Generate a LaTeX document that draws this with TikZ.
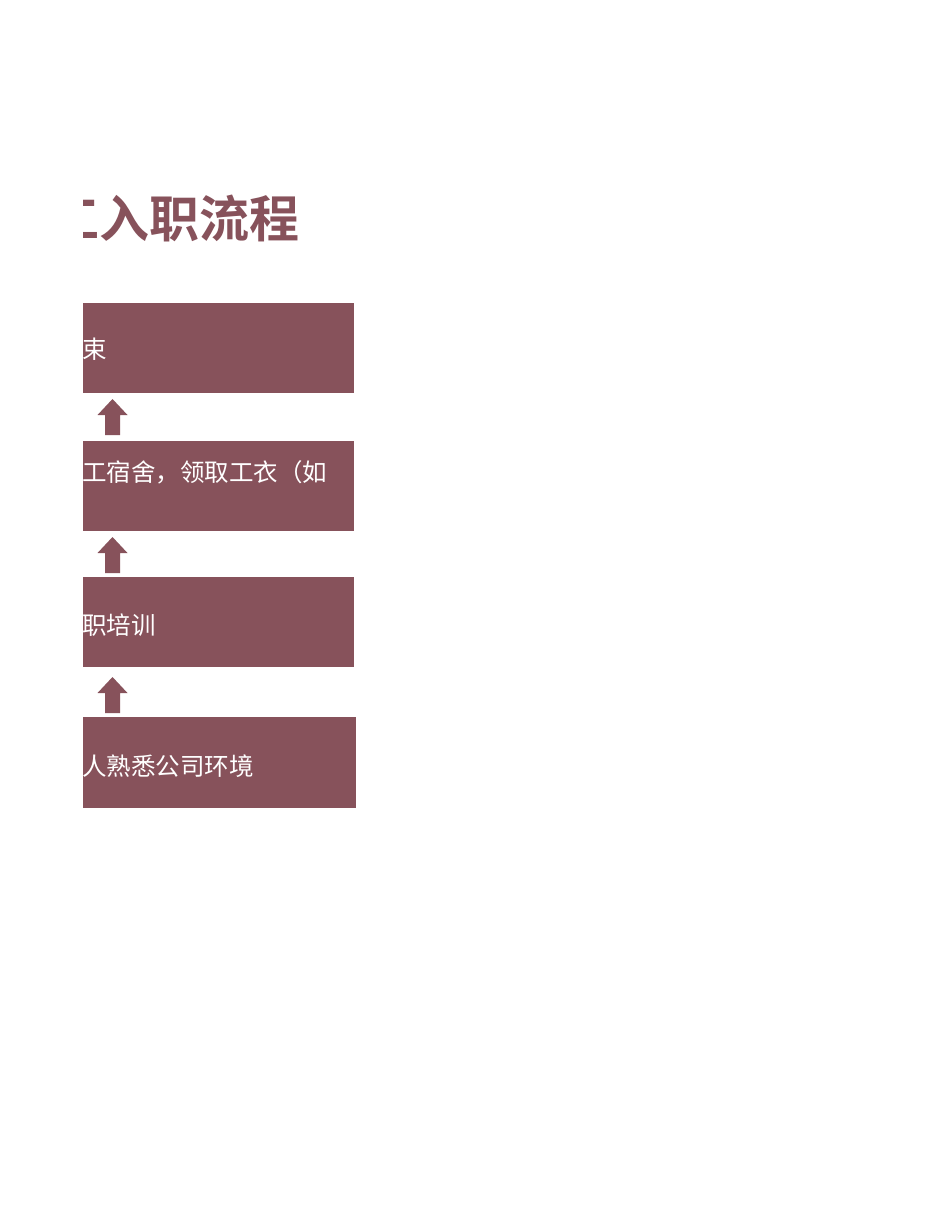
\documentclass[tikz,border=0pt]{standalone}
\usepackage{fontspec}
\newfontfamily\cjk{Noto Sans CJK SC}
\newfontfamily\cjkb{Noto Sans CJK SC Bold}
\definecolor{wine}{HTML}{87525B}
\begin{document}
\begin{tikzpicture}[x=1pt,y=-1pt,
  stepbox/.style={fill=wine,draw=none},
  boxtext/.style={anchor=base west,inner sep=0pt,text=white,font=\cjk\fontsize{24.5}{24.5}\selectfont},
  uparrow/.style={fill=wine,draw=none}]
\useasboundingbox (0,0) rectangle (950,1230);
\begin{scope}
\clip (83,0) rectangle (950,1230);
\node[anchor=base west,inner sep=0pt,text=wine,font=\cjkb\fontsize{50}{50}\selectfont] (title) at (49,238) {工入职流程};
\fill[stepbox] (83,303) rectangle (354,393);
\fill[stepbox] (83,441) rectangle (354,531);
\fill[stepbox] (83,577) rectangle (354,667);
\fill[stepbox] (83,717) rectangle (356,808);
\node[boxtext] (t1) at (82,358) {束};
\node[boxtext] (t2) at (82,481) {工宿舍，领取工衣（如};
\node[boxtext] (t3) at (82,634) {职培训};
\node[boxtext] (t4) at (82,775) {人熟悉公司环境};
\end{scope}
% arrows
\foreach \tip in {399,537,677}{
  \fill[uparrow] (112.5,\tip) -- (127.5,\tip+16) -- (120,\tip+16) -- (120,\tip+36)
     -- (105,\tip+36) -- (105,\tip+16) -- (97.5,\tip+16) -- cycle;
}
\end{tikzpicture}
\end{document}
